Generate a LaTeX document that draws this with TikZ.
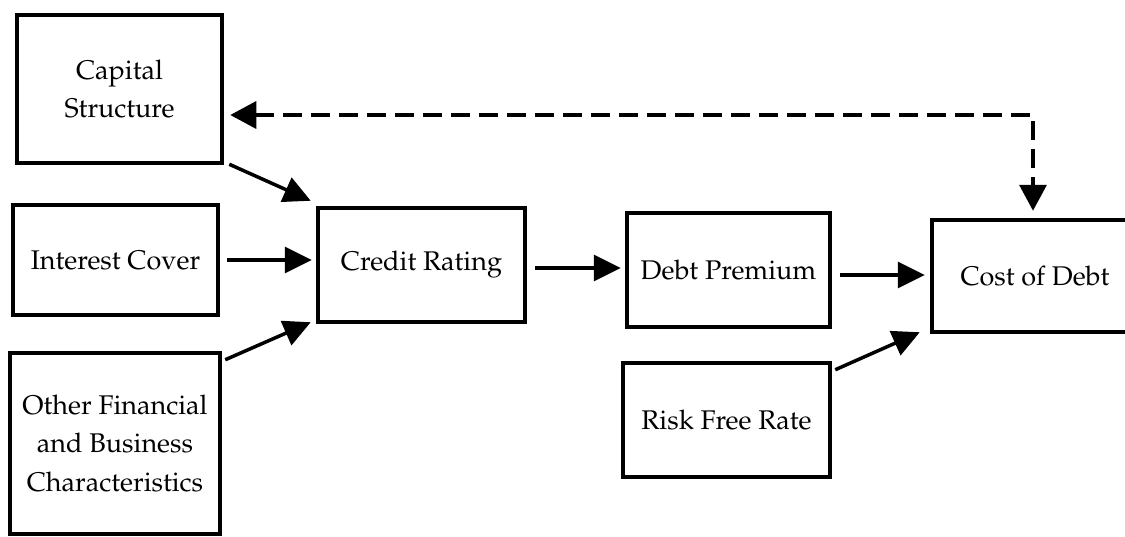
\documentclass[tikz,border=0pt]{standalone}
\usepackage[T1]{fontenc}
\renewcommand{\rmdefault}{ppl}
\usetikzlibrary{arrows.meta,calc}
\begin{document}
\begin{tikzpicture}[x=1pt,y=-1pt,
  box/.style={draw,line width=4.5pt,inner sep=0pt,align=center,
    font=\fontsize{27}{38.5}\selectfont},
  arr/.style={line width=3.5pt,-{Triangle[length=27pt,width=26pt]}},
  dasharr/.style={line width=3.5pt,dash pattern=on 19pt off 9pt,
    {Triangle[length=26pt,width=27pt]}-{Triangle[length=26pt,width=27pt]}}]
\useasboundingbox (0,0) rectangle (1125,536);
\clip (0,0) rectangle (1125,536);
\node[box,minimum width=205pt,minimum height=148pt] (cs) at (119.5,89) {Capital\\Structure};
\node[box,minimum width=205pt,minimum height=110pt] (ic) at (115.5,260) {Interest Cover};
\node[box,minimum width=210pt,minimum height=181pt] (of) at (115,443.5) {Other Financial\\and Business\\Characteristics};
\node[box,minimum width=207pt,minimum height=114pt] (cr) at (421.5,265) {Credit Rating};
\node[box,minimum width=203pt,minimum height=114pt] (dp) at (728.5,270) {Debt Premium};
\node[box,minimum width=207pt,minimum height=114pt] (rf) at (726.5,420) {Risk Free Rate};
\node[box,minimum width=206pt,minimum height=112pt] (cd) at (1035,276) {Cost of Debt};
\coordinate (bend) at (1033,115);
\draw[arr] ($(cs.south east)+(5,-1)$) -- ($(cr.north west)+(-5,-5)$);
\draw[arr] ($(ic.east)+(7,0)$) -- ($(cr.west)+(-4,-5)$);
\draw[arr] ($(of.north east)+(3,9)$) -- ($(cr.south west)+(-5,-2)$);
\draw[arr] ($(cr.east)+(8,3)$) -- ($(dp.west)+(-4,-2)$);
\draw[arr] ($(dp.east)+(8,5)$) -- ($(cd.west)+(-5,-1)$);
\draw[arr] ($(rf.north east)+(3,9)$) -- ($(cd.south west)+(-10,-2)$);
\draw[dasharr] ($(cs.east)+(6,26)$) -- (bend) -- ($(cd.north)+(-2,-7)$);
\end{tikzpicture}
\end{document}
